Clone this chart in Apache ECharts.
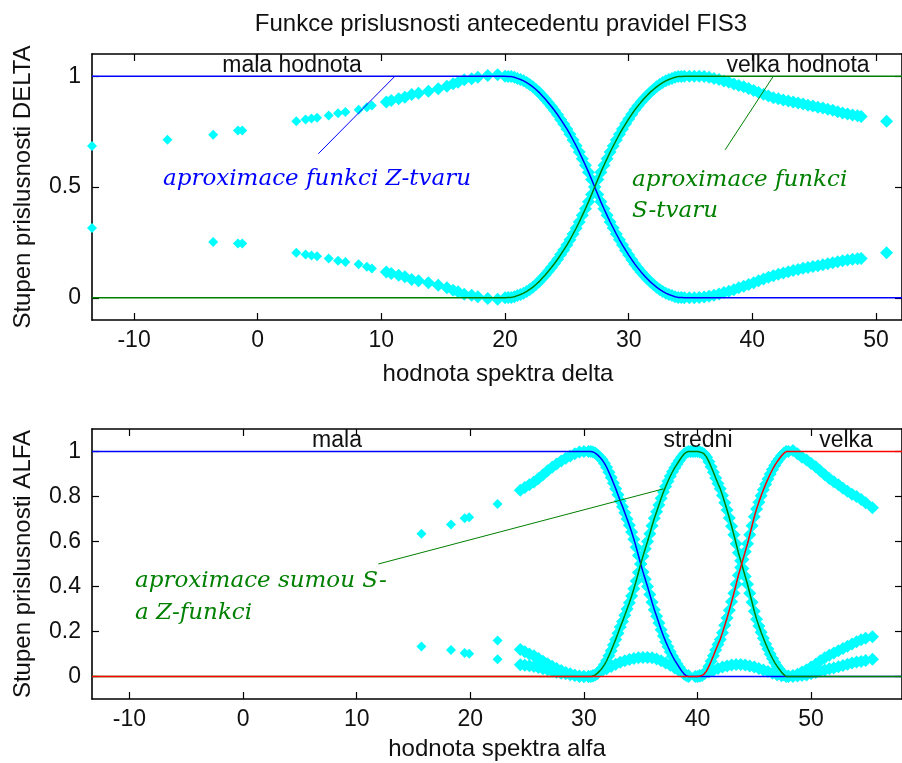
<!DOCTYPE html>
<html>
<head>
<meta charset="utf-8">
<script src="https://cdn.jsdelivr.net/npm/echarts@6/dist/echarts.min.js"></script>
<style>
  html, body { margin: 0; padding: 0; background: #fff; }
  #chart { width: 902px; height: 763px; }
</style>
</head>
<body>
<div id="chart"></div>
<script>
// FIS3 antecedent membership functions: DELTA spectrum (top), ALFA spectrum (bottom)

const xTicks = [-10, 0, 10, 20, 30, 40, 50];
const deltaYTicks = [0, 0.5, 1];
const alfaYTicks = [0, 0.2, 0.4, 0.6, 0.8, 1];

// DELTA: approximating curves, Z-shape ("mala hodnota") and S-shape ("velka hodnota")
const deltaCurveX = [-13.4, 20, 20.25, 20.5, 20.75, 21, 21.25, 21.5, 21.75, 22, 22.25, 22.5, 22.75, 23,
  23.25, 23.5, 23.75, 24, 24.25, 24.5, 24.75, 25, 25.25, 25.5, 25.75, 26, 26.25, 26.5, 26.75, 27,
  27.25, 27.5, 27.75, 28, 28.25, 28.5, 28.75, 29, 29.25, 29.5, 29.75, 30, 30.25, 30.5, 30.75, 31,
  31.25, 31.5, 31.75, 32, 32.25, 32.5, 32.75, 33, 33.25, 33.5, 33.75, 34, 34.25, 34.5, 52.1];
const deltaZ = [1, 1, 0.999, 0.998, 0.995, 0.99, 0.985, 0.979, 0.971, 0.962, 0.952, 0.94, 0.927, 0.912,
  0.897, 0.88, 0.863, 0.845, 0.826, 0.805, 0.784, 0.762, 0.738, 0.712, 0.686, 0.658, 0.628, 0.598, 0.567, 0.534,
  0.5, 0.466, 0.433, 0.402, 0.372, 0.342, 0.315, 0.288, 0.262, 0.238, 0.215, 0.193, 0.172, 0.152, 0.134, 0.117,
  0.101, 0.086, 0.072, 0.06, 0.048, 0.038, 0.029, 0.021, 0.015, 0.01, 0.005, 0.002, 0.001, 0, 0];
const deltaS = [0, 0, 0.001, 0.002, 0.005, 0.01, 0.015, 0.021, 0.029, 0.038, 0.048, 0.06, 0.073, 0.088,
  0.103, 0.12, 0.137, 0.155, 0.174, 0.195, 0.216, 0.238, 0.262, 0.288, 0.314, 0.342, 0.372, 0.402, 0.433, 0.466,
  0.5, 0.534, 0.567, 0.598, 0.628, 0.658, 0.685, 0.712, 0.738, 0.762, 0.785, 0.807, 0.828, 0.848, 0.866, 0.883,
  0.899, 0.914, 0.928, 0.94, 0.952, 0.962, 0.971, 0.979, 0.985, 0.99, 0.995, 0.998, 0.999, 1, 1];

// DELTA: sample memberships outside the transition, rows [x, mala, velka]
const deltaSamples = [
  [-13.4, 0.685, 0.315], [-7.3, 0.713, null], [-3.6, 0.736, 0.252], [-1.6, 0.755, 0.245], [-1.25, 0.755, 0.245],
  [3.12, 0.797, 0.203], [3.87, 0.805, 0.195], [4.35, 0.809, 0.191], [4.8, 0.812, 0.188], [5.74, 0.823, 0.177],
  [6.5, 0.833, 0.167], [7.09, 0.838, 0.162], [8.16, 0.849, 0.151], [8.83, 0.86, 0.14], [9.23, 0.868, 0.132],
  [10.4, 0.883, 0.117], [10.8, 0.89, 0.11], [11.4, 0.898, 0.102], [11.9, 0.905, 0.095], [12.45, 0.917, 0.083],
  [13.0, 0.923, 0.077], [13.8, 0.932, 0.068], [14.6, 0.943, 0.057], [15.3, 0.954, 0.046], [15.8, 0.966, 0.034],
  [16.2, 0.973, 0.027], [16.7, 0.984, 0.016], [17.3, 0.988, 0.012], [17.8, 0.995, 0.005], [18.6, 1.003, -0.003],
  [19.4, 1.006, -0.006],
  [34.9, 0, 1.0], [35.3, 0, 1.0], [35.7, 0.002, 1.0], [36.1, 0.004, 0.998], [36.5, 0.007, 0.995],
  [36.9, 0.012, 0.99], [37.3, 0.017, 0.985], [37.7, 0.024, 0.978], [38.1, 0.03, 0.972], [38.5, 0.037, 0.965],
  [38.9, 0.045, 0.958], [39.3, 0.052, 0.952], [39.7, 0.06, 0.944], [40.1, 0.068, 0.935], [40.5, 0.077, 0.926],
  [40.9, 0.085, 0.918], [41.3, 0.093, 0.91], [41.7, 0.1, 0.903], [42.1, 0.106, 0.898], [42.5, 0.112, 0.893],
  [42.9, 0.118, 0.888], [43.3, 0.123, 0.883], [43.7, 0.128, 0.879], [44.1, 0.133, 0.874], [44.5, 0.137, 0.869],
  [44.9, 0.141, 0.865], [45.3, 0.145, 0.86], [45.7, 0.149, 0.856], [46.1, 0.154, 0.851], [46.5, 0.158, 0.846],
  [46.9, 0.163, 0.84], [47.3, 0.167, 0.834], [47.7, 0.171, 0.829], [48.1, 0.174, 0.825], [48.5, 0.176, 0.821],
  [48.8, 0.178, 0.818], [50.85, 0.203, 0.797]
];

// ALFA: approximating curves "mala", "stredni", "velka"
const alfaMalaX = [-13.3, 30.6, 30.8, 31.0, 31.2, 31.4, 31.6, 31.8, 32.0, 32.2, 32.4, 32.6, 32.8, 33.0,
  33.2, 33.4, 33.6, 33.8, 34.0, 34.2, 34.4, 34.6, 34.8, 35.0, 35.2, 35.4, 35.6, 35.8, 36.0, 36.2, 36.4,
  36.6, 36.8, 37.0, 37.2, 37.4, 37.6, 37.8, 38.0, 38.2, 38.4, 38.6, 38.8, 39.0, 39.2, 58];
const alfaMala = [1, 1.0, 0.998, 0.993, 0.985, 0.975, 0.963, 0.948, 0.93, 0.908, 0.885, 0.86, 0.835, 0.808,
  0.78, 0.755, 0.728, 0.70, 0.672, 0.642, 0.61, 0.575, 0.538, 0.5, 0.465, 0.432, 0.4, 0.365, 0.33, 0.297, 0.268,
  0.238, 0.208, 0.18, 0.155, 0.132, 0.11, 0.09, 0.072, 0.056, 0.04, 0.025, 0.012, 0.004, 0, 0];

const alfaStredniX = [-13.3, 30.6, 30.8, 31.0, 31.2, 31.4, 31.6, 31.8, 32.0, 32.2, 32.4, 32.6, 32.8, 33.0,
  33.2, 33.4, 33.6, 33.8, 34.0, 34.2, 34.4, 34.6, 34.8, 35.0, 35.2, 35.4, 35.6, 35.8, 36.0, 36.2, 36.4,
  36.6, 36.8, 37.0, 37.2, 37.4, 37.6, 37.8, 38.0, 38.2, 38.4, 38.6, 38.8, 39.0, 39.2, 39.4, 39.6,
  39.8, 40.0, 40.2, 40.4, 40.6, 40.8, 41.0, 41.2, 41.4, 41.6, 41.8, 42.0, 42.2, 42.4, 42.6, 42.8,
  43.0, 43.2, 43.4, 43.6, 43.8, 44.0, 44.2, 44.4, 44.6, 44.8, 45.0, 45.2, 45.4, 45.6, 45.8, 46.0,
  46.2, 46.4, 46.6, 46.8, 47.0, 47.2, 47.4, 47.6, 47.8, 58];
const alfaStredni = [0, 0, 0.002, 0.007, 0.015, 0.025, 0.037, 0.052, 0.07, 0.092, 0.115, 0.14, 0.165, 0.192,
  0.22, 0.245, 0.272, 0.30, 0.328, 0.358, 0.39, 0.425, 0.462, 0.5, 0.535, 0.568, 0.6, 0.635, 0.67, 0.703, 0.732,
  0.762, 0.792, 0.82, 0.845, 0.868, 0.89, 0.91, 0.928, 0.944, 0.96, 0.975, 0.988, 0.996, 1, 1, 1,
  1.0, 1.0, 0.998, 0.995, 0.988, 0.975, 0.955, 0.932, 0.908, 0.882, 0.858, 0.835, 0.805, 0.772, 0.74, 0.705,
  0.668, 0.63, 0.59, 0.55, 0.515, 0.48, 0.445, 0.41, 0.37, 0.33, 0.29, 0.255, 0.225, 0.197, 0.17, 0.145,
  0.122, 0.1, 0.08, 0.062, 0.046, 0.032, 0.019, 0.008, 0, 0];

const alfaVelkaX = [-13.3, 39.8, 40.0, 40.2, 40.4, 40.6, 40.8, 41.0, 41.2, 41.4, 41.6, 41.8, 42.0, 42.2,
  42.4, 42.6, 42.8, 43.0, 43.2, 43.4, 43.6, 43.8, 44.0, 44.2, 44.4, 44.6, 44.8, 45.0, 45.2, 45.4, 45.6,
  45.8, 46.0, 46.2, 46.4, 46.6, 46.8, 47.0, 47.2, 47.4, 47.6, 47.8, 58];
const alfaVelka = [0, 0, 0, 0.002, 0.005, 0.012, 0.025, 0.045, 0.068, 0.092, 0.118, 0.142, 0.165, 0.195,
  0.228, 0.26, 0.295, 0.332, 0.37, 0.41, 0.45, 0.485, 0.52, 0.555, 0.59, 0.63, 0.67, 0.71, 0.745, 0.775, 0.803,
  0.83, 0.855, 0.878, 0.9, 0.92, 0.938, 0.954, 0.968, 0.981, 0.992, 1.0, 1];

// ALFA: sample memberships, rows [x, mala, stredni, velka]
const alfaSamples = [
  [15.7, 0.635, 0.133, null], [18.3, 0.676, 0.118, null], [19.5, 0.703, 0.104, null], [19.9, 0.708, 0.101, null],
  [22.4, 0.767, 0.16, 0.077],
  [24.4, 0.828, 0.12, 0.052], [24.8, 0.84, 0.11, 0.05], [25.2, 0.852, 0.1, 0.048], [25.6, 0.864, 0.092, 0.044],
  [26.0, 0.88, 0.08, 0.04], [26.4, 0.897, 0.068, 0.035], [26.8, 0.915, 0.057, 0.03], [27.2, 0.93, 0.046, 0.024],
  [27.6, 0.945, 0.036, 0.019], [28.0, 0.958, 0.027, 0.015], [28.4, 0.97, 0.018, 0.012], [28.8, 0.98, 0.012, 0.008],
  [29.2, 0.99, 0.006, 0.004], [29.6, 0.998, 0.002, 0.0], [30.0, 1.0, 0, 0], [30.4, 1.0, 0, 0],
  [48.0, 0, 0.002, 1.0], [48.4, 0, 0.005, 1.005], [48.8, 0.002, 0.01, 0.99], [49.2, 0.004, 0.02, 0.975],
  [49.6, 0.007, 0.03, 0.962], [50.0, 0.012, 0.042, 0.947], [50.4, 0.018, 0.055, 0.932], [50.8, 0.024, 0.07, 0.915],
  [51.2, 0.029, 0.083, 0.897], [51.6, 0.034, 0.095, 0.88], [52.0, 0.038, 0.105, 0.866], [52.4, 0.043, 0.115, 0.852],
  [52.8, 0.049, 0.125, 0.837], [53.2, 0.055, 0.134, 0.823], [53.6, 0.06, 0.145, 0.81], [54.0, 0.064, 0.155, 0.8],
  [54.4, 0.067, 0.163, 0.787], [54.8, 0.071, 0.17, 0.772], [55.4, 0.077, 0.177, 0.75]
];
// third membership inside the transitions, rows [x, value]
const alfaVelkaBump = [[30.8, 0.005], [31.2, 0.015], [31.6, 0.025], [32.0, 0.035], [32.4, 0.045], [32.8, 0.055],
  [33.2, 0.063], [33.6, 0.07], [34.0, 0.076], [34.4, 0.08], [34.8, 0.083], [35.2, 0.085], [35.6, 0.085],
  [36.0, 0.083], [36.4, 0.078], [36.8, 0.07], [37.2, 0.06], [37.6, 0.05], [38.0, 0.038], [38.4, 0.025],
  [38.8, 0.013], [39.2, 0.004]];
const alfaMalaBump = [[40.2, 0.004], [40.6, 0.012], [41.0, 0.02], [41.4, 0.028], [41.8, 0.036], [42.2, 0.042],
  [42.6, 0.047], [43.0, 0.051], [43.4, 0.053], [43.8, 0.053], [44.2, 0.051], [44.6, 0.047], [45.0, 0.042],
  [45.4, 0.036], [45.8, 0.029], [46.2, 0.022], [46.6, 0.015], [47.0, 0.008], [47.4, 0.003]];

// annotation pointer lines (data units)
const deltaPointerZX = [4.9, 11.1], deltaPointerZY = [0.65, 1.0];
const deltaPointerSX = [37.8, 41.7], deltaPointerSY = [0.668, 1.0];
const alfaPointerX = [11.9, 37.0], alfaPointerY = [0.5, 0.834];

const BLUE = '#0000ff', GREEN = '#008000', RED = '#ff0000', CYAN = '#00ffff';
const SANS = '"Liberation Sans", Arial, sans-serif';

const zip = (xs, ys) => xs.map((x, i) => [x, ys[i]]);

function xAxis(gridIndex, min, max, position) {
  return {
    type: 'value', gridIndex, min, max, position,
    axisLine: { show: true, onZero: false, lineStyle: { color: '#000', width: 1.6 } },
    axisTick: { show: true, inside: true, length: 7, customValues: xTicks, lineStyle: { color: '#000', width: 1.2 } },
    axisLabel: { show: position === 'bottom', customValues: xTicks, color: '#111', fontFamily: SANS, fontSize: 23, margin: 9 },
    splitLine: { show: false }
  };
}
function yAxis(gridIndex, ticks, position) {
  return {
    type: 'value', gridIndex, min: -0.1, max: 1.1, position,
    axisLine: { show: true, onZero: false, lineStyle: { color: '#000', width: 1.6 } },
    axisTick: { show: true, inside: true, length: 7, customValues: ticks, lineStyle: { color: '#000', width: 1.2 } },
    axisLabel: { show: position === 'left', customValues: ticks, color: '#111', fontFamily: SANS, fontSize: 23, margin: 11,
      formatter: v => String(v) },
    splitLine: { show: false }
  };
}

// cyan sample points
const deltaCyan = [];
deltaSamples.forEach(([x, m, v]) => {
  if (m !== null) deltaCyan.push([x, m]);
  if (v !== null) deltaCyan.push([x, v]);
});
deltaCurveX.forEach((x, i) => {
  if (x >= 20 && x <= 34.5) { deltaCyan.push([x, deltaZ[i]]); deltaCyan.push([x, deltaS[i]]); }
});

const alfaCyan = [];
alfaSamples.forEach(([x, m, s, v]) => {
  [m, s, v].forEach(u => { if (u !== null) alfaCyan.push([x, u]); });
});
const inSamples = x => x > 15 && x < 56;
alfaMalaX.forEach((x, i) => { if (inSamples(x)) alfaCyan.push([x, alfaMala[i]]); });
alfaStredniX.forEach((x, i) => { if (inSamples(x)) alfaCyan.push([x, alfaStredni[i]]); });
alfaVelkaX.forEach((x, i) => { if (inSamples(x)) alfaCyan.push([x, alfaVelka[i]]); });
alfaVelkaBump.forEach(p => alfaCyan.push(p));
alfaMalaBump.forEach(p => alfaCyan.push(p));

function curve(data, color, xi, width) {
  return {
    type: 'line', xAxisIndex: xi, yAxisIndex: xi, data, showSymbol: false, symbol: 'none',
    lineStyle: { color, width: width || 1.5 }, z: 3, silent: true
  };
}
// isolated samples use a smaller diamond; dense bands use a larger one
function cyan(data, xi, sparseBelow) {
  return {
    type: 'scatter', xAxisIndex: xi, yAxisIndex: xi, data, symbol: 'diamond',
    symbolSize: v => (v[0] < sparseBelow ? 10 : 13),
    itemStyle: { color: CYAN, opacity: 1 }, z: 2, silent: true
  };
}

function text(x, y, str, opts) {
  opts = opts || {};
  return {
    type: 'text', x, y, rotation: opts.rotation || 0, z: 100,
    style: {
      text: str, fill: opts.color || '#111',
      font: opts.font || ('23px ' + SANS),
      align: opts.align || 'center', verticalAlign: 'middle'
    }
  };
}
const ITALIC = 'italic 23px "DejaVu Serif", serif';

const chart = echarts.init(document.getElementById('chart'), null, { renderer: 'canvas' });
chart.setOption({
  animation: false,
  backgroundColor: '#fff',
  grid: [
    { left: 92, top: 54, width: 814, height: 266 },
    { left: 92, top: 429, width: 814, height: 270 }
  ],
  xAxis: [
    xAxis(0, -13.4, 52.1, 'bottom'), xAxis(0, -13.4, 52.1, 'top'),
    xAxis(1, -13.3, 58.0, 'bottom'), xAxis(1, -13.3, 58.0, 'top')
  ],
  yAxis: [
    yAxis(0, deltaYTicks, 'left'), yAxis(0, deltaYTicks, 'right'),
    yAxis(1, alfaYTicks, 'left'), yAxis(1, alfaYTicks, 'right')
  ],
  series: [
    cyan(deltaCyan, 0, 10),
    curve(zip(deltaCurveX, deltaZ), BLUE, 0),
    curve(zip(deltaCurveX, deltaS), GREEN, 0),
    curve(zip(deltaPointerZX, deltaPointerZY), BLUE, 0, 1),
    curve(zip(deltaPointerSX, deltaPointerSY), GREEN, 0, 1),

    cyan(alfaCyan, 2, 23),
    curve(zip(alfaMalaX, alfaMala), BLUE, 2),
    curve(zip(alfaStredniX, alfaStredni), GREEN, 2),
    curve(zip(alfaVelkaX, alfaVelka), RED, 2),
    curve(zip(alfaPointerX, alfaPointerY), GREEN, 2, 1)
  ],
  graphic: [
    text(501, 24, 'Funkce prislusnosti antecedentu pravidel FIS3', { font: '24px ' + SANS }),
    text(498, 374, 'hodnota spektra delta', { font: '24px ' + SANS }),
    text(497, 749, 'hodnota spektra alfa', { font: '24px ' + SANS }),
    text(23, 187, 'Stupen prislusnosti DELTA', { font: '24px ' + SANS, rotation: Math.PI / 2 }),
    text(23, 564, 'Stupen prislusnosti ALFA', { font: '24px ' + SANS, rotation: Math.PI / 2 }),

    text(292, 66, 'mala hodnota'),
    text(798, 66, 'velka hodnota'),
    text(163, 179, 'aproximace funkci Z-tvaru', { font: ITALIC, color: BLUE, align: 'left' }),
    text(632, 180, 'aproximace funkci', { font: ITALIC, color: GREEN, align: 'left' }),
    text(632, 211, 'S-tvaru', { font: ITALIC, color: GREEN, align: 'left' }),

    text(337, 441, 'mala'),
    text(698, 441, 'stredni'),
    text(846, 441, 'velka'),
    text(135, 581, 'aproximace sumou S-', { font: ITALIC, color: GREEN, align: 'left' }),
    text(135, 613, 'a Z-funkci', { font: ITALIC, color: GREEN, align: 'left' })
  ]
});
</script>
</body>
</html>
